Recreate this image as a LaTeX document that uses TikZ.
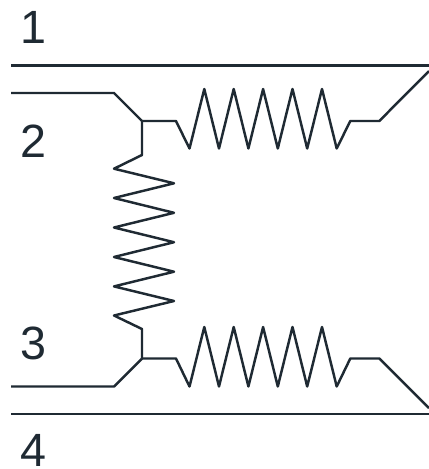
\documentclass[tikz,border=0pt]{standalone}
\usepackage{fontspec}
\setmainfont{Liberation Sans}
\definecolor{inkc}{HTML}{1F2A33}
\tikzset{
  wire/.style={draw=inkc,line width=1.85pt,line join=round,line cap=butt},
  numlabel/.style={inner sep=0pt,anchor=base,text=inkc,font=\fontsize{35pt}{36pt}\selectfont}
}
\begin{document}
\begin{tikzpicture}[x=0.75pt,y=-0.75pt]
\useasboundingbox (0,0) rectangle (429,469);
\node[numlabel] (n1) at (33,43) {1};
\node[numlabel] (n2) at (33,157) {2};
\node[numlabel] (n3) at (33,359) {3};
\node[numlabel] (n4) at (33,466.5) {4};
% terminals and junctions
\coordinate (railTopL) at (11,65.5);
\coordinate (railTopR) at (429,65.5);
\coordinate (railBotL) at (11,414);
\coordinate (railBotR) at (429,414);
\coordinate (inTop) at (11,93);
\coordinate (inBot) at (11,386.5);
\coordinate (jTop) at (142,121);
\coordinate (jBot) at (142,358.5);
\coordinate (outTop) at (429,71);
\coordinate (outBot) at (429,408);
% rails
\draw[wire] (railTopL) -- (railTopR);
\draw[wire] (railBotL) -- (railBotR);
% top branch
\draw[wire] (inTop) -- (114,93) -- (jTop);
\draw[wire] (jTop) -- (176,121) -- (189.5,148.5)
  -- (204.3,89) -- (219,148.5) -- (233.7,89) -- (248.4,148.5) -- (263.1,89)
  -- (277.8,148.5) -- (292.5,89) -- (307.2,148.5) -- (322,89) -- (336.7,148.5)
  -- (350.3,121) -- (379.3,121) -- (outTop);
% bottom branch
\draw[wire] (inBot) -- (114,386.5) -- (jBot);
\draw[wire] (jBot) -- (176,358.5) -- (189.5,386.5)
  -- (204.3,327) -- (219,386.5) -- (233.7,327) -- (248.4,386.5) -- (263.1,327)
  -- (277.8,386.5) -- (292.5,327) -- (307.2,386.5) -- (322,327) -- (336.7,386.5)
  -- (350.3,358.5) -- (379.3,358.5) -- (outBot);
% vertical resistor
\draw[wire] (jTop) -- (142,155) -- (114,168.7) -- (174,183.3) -- (114,198)
  -- (174,212.8) -- (114,227.5) -- (174,242.2) -- (114,257) -- (174,271.7)
  -- (114,286.4) -- (174,301) -- (114,315.5) -- (142,329) -- (jBot);
\end{tikzpicture}
\end{document}
